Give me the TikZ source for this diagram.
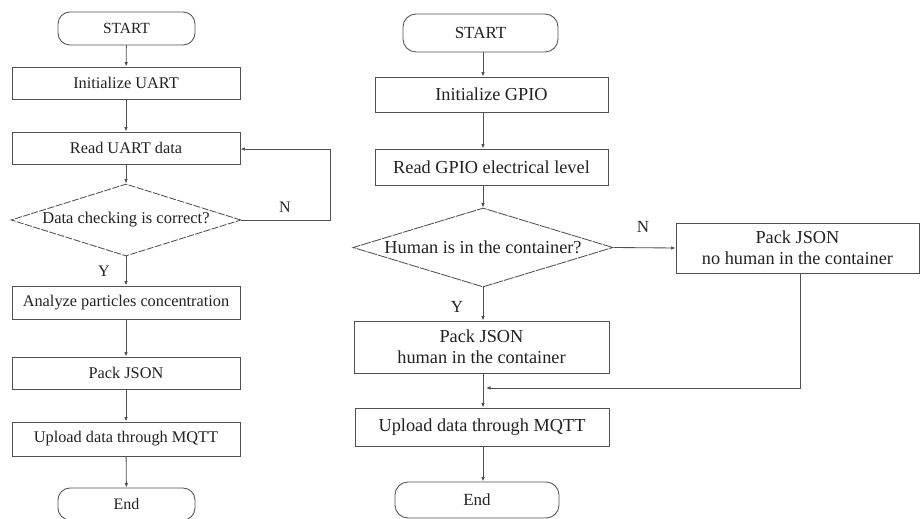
\documentclass[tikz,border=0pt]{standalone}
\usepackage{fontspec}
\setmainfont{Liberation Serif}
\usetikzlibrary{shapes.geometric,arrows.meta}
\definecolor{ln}{HTML}{505050}
\definecolor{tx}{HTML}{222222}
\tikzset{
  base/.style={draw=ln, line width=0.85pt, text=tx, inner sep=0pt},
  boxL/.style={base, rectangle, font=\fontsize{16.3}{19}\selectfont},
  boxR/.style={base, rectangle, align=center, font=\fontsize{18.3}{21}\selectfont},
  termL/.style={base, rectangle, rounded corners=12pt, font=\fontsize{15.5}{18}\selectfont},
  termR/.style={base, rectangle, rounded corners=13pt, font=\fontsize{17}{20}\selectfont},
  dia/.style={base, diamond, dashed, dash pattern=on 7pt off 1.5pt},
  arr/.style={draw=ln, line width=0.85pt, -{Latex[length=4.5pt,width=3.5pt]}},
  lab/.style={text=tx, inner sep=0pt}
}
\begin{document}
\begin{tikzpicture}[x=1pt,y=-1pt]
\useasboundingbox (0,0) rectangle (921,519);
% ---------- left flowchart ----------
\node[termL, minimum width=137, minimum height=33] (ls) at (126.5,28.5) {START};
\node[boxL, minimum width=228, minimum height=32] (li) at (126,83) {Initialize UART};
\node[boxL, minimum width=228, minimum height=32] (lr) at (126,148) {Read UART data};
\node[dia, minimum width=230, minimum height=72, aspect=3.2, font=\fontsize{16.5}{19}\selectfont] (ld) at (126,220) {\makebox[0pt]{Data checking is correct?}};
\node[boxL, minimum width=228, minimum height=33] (la) at (126,302.5) {Analyze particles concentration};
\node[boxL, minimum width=228, minimum height=32] (lp) at (126,373) {Pack JSON};
\node[boxL, minimum width=228, minimum height=34] (lu) at (126,439) {Upload data through MQTT};
\node[termL, minimum width=137, minimum height=32, font=\fontsize{16}{18}\selectfont] (le) at (126.5,504) {End};
\coordinate (lc) at (330,220);
\draw[arr] (ls) -- (li);
\draw[arr] (li) -- (lr);
\draw[arr] (lr) -- (ld);
\draw[arr] (ld) -- (la);
\draw[arr] (la) -- (lp);
\draw[arr] (lp) -- (lu);
\draw[arr] (lu) -- (le);
\draw[arr] (ld.east) -- (lc) |- ([yshift=-1pt]lr.east);
\node[lab, font=\fontsize{16}{18}\selectfont] (ln) at (285,207) {N};
\node[lab, font=\fontsize{16}{18}\selectfont] (ly) at (104,271) {Y};
% ---------- right flowchart ----------
\coordinate (rx) at (483,0);
\node[termR, minimum width=155, minimum height=38] (rs) at (480.5,33) {START};
\node[boxR, minimum width=233, minimum height=35] (ri) at (491.5,94.5) {Initialize GPIO};
\node[boxR, minimum width=233, minimum height=36] (rr) at (491.5,167) {Read GPIO electrical level};
\node[dia, minimum width=260, minimum height=79, aspect=3.3, dash pattern=on 10pt off 1pt, font=\fontsize{18.3}{21}\selectfont] (rd) at (483,247.5) {\makebox[0pt]{\raisebox{-2pt}{Human is in the container?}}};
\node[boxR, minimum width=243, minimum height=50] (rn) at (797.5,248) {Pack JSON\\no human in the container};
\node[boxR, minimum width=255, minimum height=52] (rh) at (481.5,347) {Pack JSON\\human in the container};
\node[boxR, minimum width=254, minimum height=38] (ru) at (482,427) {Upload data through MQTT};
\node[termR, minimum width=164, minimum height=36] (re) at (477,500) {End};
\coordinate (m) at (483,388);
\draw[arr] (rx |- rs.south) -- (rx |- ri.north);
\draw[arr] (rx |- ri.south) -- (rx |- rr.north);
\draw[arr] (rx |- rr.south) -- (rd.north);
\draw[arr] (rd.south) -- (rx |- rh.north);
\draw[arr] (rd.east) -- (rn.west);
\draw[arr] (rx |- rh.south) -- (rx |- ru.north);
\draw[arr] (rx |- ru.south) -- (rx |- re.north);
\draw[arr] ([xshift=2.5pt]rn.south) |- ([xshift=3pt]m);
\node[lab, font=\fontsize{17}{20}\selectfont] (rnl) at (643,227) {N};
\node[lab, font=\fontsize{17}{20}\selectfont] (ryl) at (457,307) {Y};
\end{tikzpicture}
\end{document}
